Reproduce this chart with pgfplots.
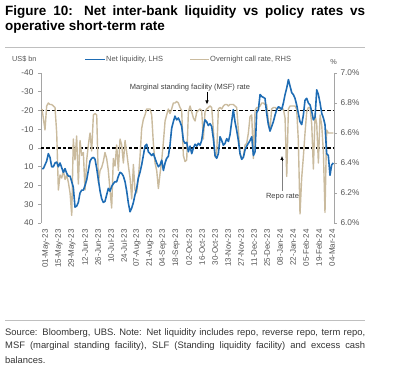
\documentclass[border=0pt]{standalone}
\usepackage{pgfplots}
\pgfplotsset{compat=1.18}
\usepackage{pgfplotstable}
\usetikzlibrary{arrows.meta}
\usepackage{fontspec}
\setmainfont{Liberation Sans}
\definecolor{netblue}{RGB}{30,108,180}
\definecolor{calltan}{RGB}{202,187,158}
\definecolor{axgray}{RGB}{165,165,165}
\definecolor{txtgray}{RGB}{85,85,85}

% day (0 = 01-May-23), net liquidity (US$ bn, LHS), overnight call rate (%, RHS)
\pgfplotstableread{
day net call
0 11 6.76
1.4 11 6.70
3.2 9 6.62
5.0 7 6.78
6.8 3 6.80
8.6 5 6.79
10.4 10 6.79
12.2 10 6.78
14.0 8 6.77
15.8 7.5 6.60
17.6 10 6.22
19.4 8 6.32
21.2 10.5 6.30
23.0 13 6.35
24.8 11 6.29
26.6 13.5 6.32
28.4 15 6.27
30.2 15 6.20
32.0 18 6.05
33.7 21 6.56
35.5 31.5 6.42
37.3 31 6.58
39.1 29 6.26
40.9 24 6.55
42.7 22.5 6.45
44.5 22.5 6.47
46.3 20 6.22
48.1 17 6.42
49.9 12 6.52
51.7 7 6.60
53.5 5.5 6.48
55.3 5 6.72
57.1 6 6.73
58.9 11 6.72
60.7 17 6.27
62.5 23 6.35
64.2 27 6.37
66.0 29 6.41
67.8 28.5 6.47
69.6 25 6.43
71.4 21.5 6.35
73.2 23 6.22
75.0 20.5 6.10
76.8 19 6.43
78.6 18 6.38
80.4 18 6.52
82.2 15 6.35
84.0 13 6.56
85.8 13.5 6.52
87.6 15 6.40
89.4 18 6.55
91.2 23 6.47
93.0 29.5 6.38
94.8 34 6.30
96.6 32 6.16
98.4 29 6.39
100.1 25 6.22
101.9 21.5 6.20
103.7 16 6.30
105.5 13 6.44
107.3 9 6.63
109.1 4 6.69
110.9 -1 6.72
112.7 -2 6.76
114.5 2 6.76
116.3 3 6.76
118.1 4 6.72
119.9 3 6.53
121.7 5.5 6.40
123.5 8 6.35
125.3 10 6.23
127.1 9 6.33
128.9 6.5 6.42
130.7 12 6.54
132.5 8 6.68
134.2 5.5 6.72
136.0 4.5 6.76
137.8 -1.5 6.73
139.6 -10.5 6.76
141.4 -14 6.80
143.2 -17 6.80
145.0 -15 6.81
146.8 -16 6.80
148.6 -14 6.77
150.4 -11.5 6.75
152.2 -4 6.45
154.0 -2.5 6.41
155.8 -3 6.42
157.6 2 6.74
159.4 -1 6.78
161.2 3 6.74
163.0 0 6.70
164.8 -2 6.68
166.6 -1 6.74
168.4 -2.5 6.75
170.1 -1.5 6.76
171.9 -4 6.75
173.7 -10.5 6.56
175.5 -15 6.74
177.3 -14 6.76
179.1 -12 6.77
180.9 -13 6.78
182.7 -11.5 6.77
184.5 -5 6.62
186.3 4 6.44
188.1 5.5 6.47
189.9 3 6.76
191.7 -6 6.77
193.5 -4 6.76
195.3 -1.5 6.78
197.1 -2.5 6.79
198.9 -5 6.79
200.7 -3.5 6.78
202.4 -7 6.79
204.2 -14 6.79
206.0 -20.5 6.79
207.8 -14 6.78
209.6 -9.5 6.77
211.4 -4 6.62
213.2 3 6.46
215.0 6 6.43
216.8 5 6.44
218.6 1 6.52
220.4 -1 6.53
222.2 -2.5 6.60
224.0 -4 6.71
225.8 -6 6.72
227.6 4 6.43
229.4 2 6.75
231.2 -19 6.77
233.0 -20.5 6.77
234.8 -28.5 6.78
236.6 -27.5 6.80
238.3 -27 6.80
240.1 -26.5 6.79
241.9 -18.5 6.79
243.7 -12.5 6.68
245.5 -9 6.62
247.3 -11.5 6.76
249.1 -14 6.77
250.9 -17.5 6.77
252.7 -20.5 6.76
254.5 -22 6.77
256.3 -21.5 6.76
258.1 -20.5 6.76
259.9 -24 6.76
261.7 -28.5 6.70
263.5 -32 6.31
265.3 -36.5 6.76
267.1 -33 6.78
268.9 -29.5 6.78
270.6 -28.5 6.78
272.4 -26.5 6.78
274.2 -23 6.76
276.0 -18.5 6.55
277.8 -14 6.06
279.6 -12.5 6.30
281.4 -17.5 6.44
283.2 -25.5 6.60
285.0 -26.5 6.74
286.8 -24 6.77
288.6 -23 6.77
290.4 -19.5 6.66
292.2 -15 6.36
294.0 -16.5 6.72
295.8 -31 6.66
297.6 -28.5 6.40
299.4 -24 6.72
301.2 -18.5 6.65
303.0 -16 6.47
304.7 -12.5 6.07
306.5 3 6.62
308.3 4 6.60
310.1 14.5 6.60
311.9 9 6.60
313.7 8 6.60
}\datatable

\begin{document}
\begin{tikzpicture}[x=1pt,y=1pt]
\path[use as bounding box] (0,0) rectangle (400,-366);

% title
\node[anchor=west,inner sep=0pt] at (5,-12.5)
  {\makebox[360pt][s]{\fontsize{13.5}{15}\selectfont\bfseries Figure 10: Net inter-bank liquidity vs policy rates vs}};
\node[anchor=west,inner sep=0pt] at (5,-27.5)
  {\fontsize{13.5}{15}\selectfont\bfseries operative short-term rate};
\draw[gray!50,line width=0.6pt] (5,-47) -- (365,-47);

% legend and unit labels
\node[anchor=west,inner sep=0pt,text=txtgray] at (12,-59.5) {\fontsize{7.3}{8}\selectfont US\$ bn};
\draw[netblue,line width=1.8pt] (85,-59.5) -- (105,-59.5);
\node[anchor=west,inner sep=0pt,text=txtgray] at (106,-59.5) {\fontsize{7.5}{8}\selectfont Net liquidity, LHS};
\draw[calltan,line width=1.8pt] (190,-59.5) -- (209,-59.5);
\node[anchor=west,inner sep=0pt,text=txtgray] at (210,-59.5) {\fontsize{7.5}{8}\selectfont Overnight call rate, RHS};
\node[inner sep=0pt,text=txtgray] at (333.5,-62) {\fontsize{7.3}{8}\selectfont \%};

% LHS axis: net liquidity
\begin{axis}[
  at={(41pt,-223pt)}, anchor=south west,
  scale only axis, width=293pt, height=150pt,
  xmin=-1.1, xmax=314.4,
  ymin=-40, ymax=40, y dir=reverse,
  ytick={-40,-30,...,40},
  axis x line=none,
  axis y line*=left,
  y axis line style={draw=axgray,line width=0.6pt},
  ytick style={draw=axgray,line width=0.6pt},
  tick align=outside, major tick length=3pt,
  /pgf/number format/assume math mode=true,
  yticklabel style={font=\fontsize{8.3}{9}\selectfont, text=txtgray, xshift=-1pt},
  clip=false,
]
\draw[black,line width=1.1pt,dash pattern=on 3.5pt off 2pt] (axis cs:-1.1,-20) -- (axis cs:314.4,-20);
\draw[black,line width=1.1pt,dash pattern=on 3.5pt off 2pt] (axis cs:-1.1,0) -- (axis cs:314.4,0);
\end{axis}

% RHS axis: overnight call rate, with date labels
\begin{axis}[
  at={(41pt,-223pt)}, anchor=south west,
  scale only axis, width=293pt, height=150pt,
  xmin=-1.1, xmax=314.4,
  ymin=6.0, ymax=7.0,
  ytick={6.0,6.2,...,7.0},
  axis y line*=right,
  axis x line*=bottom,
  x axis line style={draw=none},
  xtick style={draw=none},
  y axis line style={draw=axgray,line width=0.6pt},
  ytick style={draw=axgray,line width=0.6pt},
  tick align=outside, major tick length=3pt,
  /pgf/number format/assume math mode=true,
  yticklabel={\pgfmathprintnumber[fixed,fixed zerofill,precision=1]{\tick}\%},
  yticklabel style={font=\fontsize{8.3}{9}\selectfont, text=txtgray, xshift=0pt},
  xtick={0,14,...,308},
  xticklabels={01-May-23,15-May-23,29-May-23,12-Jun-23,26-Jun-23,10-Jul-23,24-Jul-23,07-Aug-23,21-Aug-23,04-Sep-23,18-Sep-23,02-Oct-23,16-Oct-23,30-Oct-23,13-Nov-23,27-Nov-23,11-Dec-23,25-Dec-23,08-Jan-24,22-Jan-24,05-Feb-24,19-Feb-24,04-Mar-24},
  xticklabel style={rotate=90, anchor=east, font=\fontsize{8}{9}\selectfont, text=txtgray, yshift=-4pt},
]
\addplot[calltan, line width=1.4pt, line join=round] table[x=day,y=call] {\datatable};
\end{axis}

% net liquidity drawn on top, on the LHS axis
\begin{axis}[
  at={(41pt,-223pt)}, anchor=south west,
  scale only axis, width=293pt, height=150pt,
  xmin=-1.1, xmax=314.4,
  ymin=-40, ymax=40, y dir=reverse,
  hide axis,
]
\addplot[netblue, line width=1.6pt, line join=round] table[x=day,y=net] {\datatable};
\end{axis}

% annotations
\node[inner sep=0pt,text=black!75] at (190,-87.7) {\fontsize{7.5}{8}\selectfont Marginal standing facility (MSF) rate};
\draw[black,line width=0.6pt,-{Latex[length=4pt,width=3.5pt]}] (207,-92) -- (207,-104.5);
\node[inner sep=0pt,text=black!75] at (282.5,-196.7) {\fontsize{7.5}{8}\selectfont Repo rate};
\draw[gray,line width=0.7pt] (282,-191) -- (282,-160);
\draw[black,line width=0.6pt,-{Latex[length=4pt,width=3.5pt]}] (282,-161) -- (282,-156);

% source
\draw[gray!50,line width=0.6pt] (5,-320) -- (365,-320);
\node[anchor=west,inner sep=0pt,text=black!80] at (5,-333)
  {\makebox[360pt][s]{\fontsize{9.4}{10}\selectfont Source: Bloomberg, UBS. Note: Net liquidity includes repo, reverse repo, term repo,}};
\node[anchor=west,inner sep=0pt,text=black!80] at (5,-346.5)
  {\makebox[360pt][s]{\fontsize{9.4}{10}\selectfont MSF (marginal standing facility), SLF (Standing liquidity facility) and excess cash}};
\node[anchor=west,inner sep=0pt,text=black!80] at (5,-360)
  {\fontsize{9.4}{10}\selectfont balances.};
\end{tikzpicture}
\end{document}
